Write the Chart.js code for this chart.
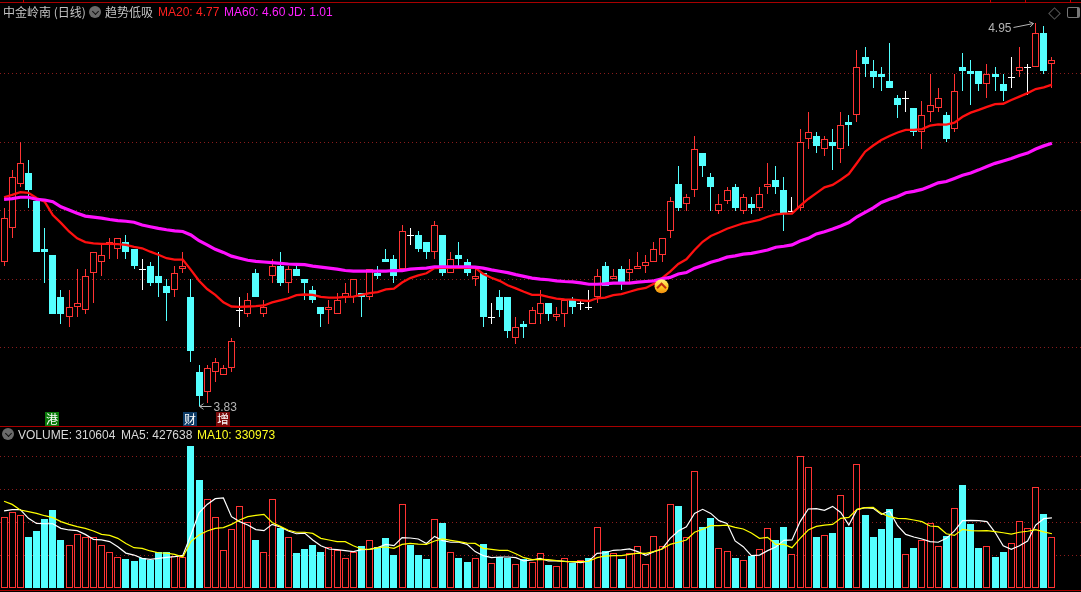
<!DOCTYPE html>
<html>
<head>
<meta charset="utf-8" />
<title>中金岭南 (日线)</title>
<script src="https://cdn.jsdelivr.net/npm/chart.js@4/dist/chart.umd.min.js"></script>
<style>
  html, body { margin: 0; padding: 0; background: #000; overflow: hidden; }
  .stage { position: relative; width: 1081px; height: 592px; background: #000; overflow: hidden; }
  canvas { position: absolute; left: 0; display: block; }
  .js-price-chart { top: 0; }
  .js-volume-chart { top: 427px; }
  .frame-line { position: absolute; left: 0; width: 1081px; height: 1px; background: #a80000; }
  .top-tick { position: absolute; top: 0; width: 1px; height: 3px; background: #c00000; }
  .head { position: absolute; white-space: nowrap; font: 12px "Liberation Sans", "Noto Sans CJK SC", sans-serif; line-height: 14px; }
  .cjk { font-family: "Noto Sans CJK SC", sans-serif; }
  .round-icon { position: absolute; width: 12px; height: 12px; border-radius: 50%; background: #6a6a6a; }
  .round-icon::after { content: ""; position: absolute; left: 3.5px; top: 2.5px; width: 4px; height: 4px; border-right: 1px solid #111; border-bottom: 1px solid #111; transform: rotate(45deg); }
  .tag { position: absolute; top: 412px; width: 14px; height: 14px; color: #fff; text-align: center; font: 12px/14px "Noto Sans CJK SC", sans-serif; }
  .diamond { position: absolute; left: 1050px; top: 9px; width: 7px; height: 7px; border: 1px solid #555; transform: rotate(45deg); }
  .toggle { position: absolute; left: 1067px; top: 7px; width: 9px; height: 9px; border: 1px solid #777; border-radius: 2px; border-right: 3px solid #777; }
</style>
</head>
<body>
<div class="stage">
  <canvas class="js-price-chart" width="1081" height="426"></canvas>
  <canvas class="js-volume-chart" width="1081" height="163"></canvas>

  <div class="frame-line" style="top: 2px"></div>
  <div class="frame-line" style="top: 426px"></div>
  <div class="frame-line" style="top: 590px"></div>
  <div class="top-tick" style="left: 23px"></div>
  <div class="top-tick" style="left: 990px"></div>
  <div class="top-tick" style="left: 1025px"></div>
  <div class="top-tick" style="left: 1070px"></div>

  <div class="head cjk" style="left: 3px; top: 5px; color: #c4c4c4">中金岭南 (日线)</div>
  <div class="round-icon" style="left: 89px; top: 6px"></div>
  <div class="head cjk" style="left: 105px; top: 5px; color: #c4c4c4">趋势低吸</div>
  <div class="head" style="left: 158px; top: 5px; color: #ff2020">MA20: 4.77</div>
  <div class="head" style="left: 224px; top: 5px; color: #ff20ff">MA60: 4.60</div>
  <div class="head" style="left: 288px; top: 5px; color: #ff20ff">JD: 1.01</div>
  <div class="diamond"></div>
  <div class="toggle"></div>

  <div class="tag" style="left: 45px; background: #0a7a0a">港</div>
  <div class="tag" style="left: 183px; background: #0c3a66">财</div>
  <div class="tag" style="left: 216px; background: #7a0a0a">增</div>

  <div class="round-icon" style="left: 2px; top: 428px"></div>
  <div class="head" style="left: 18px; top: 428px; color: #d8d8d8">VOLUME: 310604</div>
  <div class="head" style="left: 121px; top: 428px; color: #d8d8d8">MA5: 427638</div>
  <div class="head" style="left: 197px; top: 428px; color: #ffff20">MA10: 330973</div>
</div>

<script>
// prices, one entry per trading day
const opens = [
  4.25,4.35,4.48,4.51,4.43,4.29,4.27,4.15,4.09,4.12,
  4.11,4.22,4.25,4.30,4.29,4.31,4.29,4.23,4.24,4.21,
  4.18,4.17,4.23,4.15,3.93,3.87,3.93,3.92,3.94,4.11,
  4.10,4.22,4.10,4.21,4.24,4.19,4.23,4.20,4.17,4.12,
  4.11,4.10,4.15,4.15,4.16,4.15,4.22,4.26,4.26,4.23,
  4.33,4.33,4.31,4.28,4.33,4.22,4.27,4.25,4.20,4.22,
  4.09,4.15,4.15,4.03,4.07,4.07,4.10,4.13,4.09,4.10,
  4.14,4.13,4.12,4.15,4.24,4.20,4.23,4.22,4.23,4.24,
  4.25,4.27,4.34,4.48,4.42,4.46,4.57,4.50,4.40,4.43,
  4.47,4.40,4.42,4.41,4.47,4.49,4.46,4.40,4.41,4.61,
  4.62,4.58,4.60,4.58,4.66,4.68,4.85,4.81,4.80,4.78,
  4.73,4.73,4.70,4.63,4.69,4.70,4.68,4.64,4.82,4.81,
  4.81,4.77,4.80,4.77,4.79,4.81,4.82,4.82,4.92,4.83,
];
const closes = [
  4.38,4.50,4.54,4.46,4.28,4.28,4.10,4.10,4.12,4.13,
  4.21,4.28,4.27,4.31,4.32,4.28,4.24,4.23,4.19,4.19,
  4.16,4.22,4.24,3.99,3.86,3.94,3.96,3.94,4.02,4.11,
  4.14,4.15,4.12,4.24,4.19,4.23,4.21,4.19,4.14,4.10,
  4.12,4.14,4.16,4.20,4.15,4.23,4.21,4.25,4.21,4.34,
  4.33,4.29,4.28,4.36,4.22,4.26,4.26,4.22,4.21,4.09,
  4.09,4.11,4.05,4.06,4.06,4.11,4.13,4.10,4.10,4.14,
  4.12,4.13,4.12,4.21,4.18,4.21,4.19,4.23,4.24,4.25,
  4.29,4.32,4.43,4.41,4.44,4.58,4.53,4.47,4.42,4.46,
  4.41,4.44,4.41,4.45,4.48,4.47,4.39,4.40,4.60,4.63,
  4.59,4.61,4.59,4.65,4.65,4.82,4.83,4.79,4.79,4.76,
  4.71,4.73,4.63,4.68,4.71,4.73,4.61,4.75,4.81,4.80,
  4.77,4.80,4.79,4.75,4.79,4.82,4.82,4.92,4.81,4.84,
];
const highs = [
  4.41,4.52,4.60,4.55,4.43,4.35,4.27,4.17,4.17,4.23,
  4.23,4.28,4.30,4.32,4.32,4.33,4.29,4.26,4.25,4.28,
  4.20,4.24,4.28,4.20,3.95,3.95,3.97,3.95,4.03,4.15,
  4.16,4.23,4.14,4.26,4.28,4.24,4.24,4.20,4.18,4.12,
  4.14,4.16,4.19,4.20,4.16,4.23,4.24,4.29,4.27,4.36,
  4.35,4.34,4.31,4.37,4.33,4.28,4.31,4.26,4.23,4.22,
  4.13,4.17,4.15,4.09,4.08,4.12,4.17,4.13,4.12,4.14,
  4.15,4.14,4.17,4.23,4.25,4.23,4.24,4.26,4.28,4.27,
  4.31,4.32,4.44,4.53,4.45,4.62,4.57,4.51,4.45,4.47,
  4.48,4.45,4.44,4.47,4.54,4.53,4.50,4.44,4.64,4.69,
  4.63,4.62,4.64,4.69,4.68,4.87,4.88,4.84,4.82,4.89,
  4.74,4.75,4.70,4.72,4.80,4.76,4.69,4.80,4.86,4.84,
  4.81,4.83,4.82,4.80,4.85,4.88,4.83,4.95,4.94,4.85,
];
const lows = [
  4.24,4.32,4.47,4.41,4.28,4.19,4.10,4.07,4.06,4.09,
  4.10,4.13,4.21,4.26,4.26,4.26,4.23,4.17,4.18,4.15,
  4.08,4.15,4.22,3.96,3.83,3.84,3.90,3.92,3.93,4.06,
  4.09,4.15,4.09,4.19,4.18,4.16,4.21,4.14,4.13,4.06,
  4.07,4.10,4.13,4.13,4.09,4.14,4.20,4.25,4.19,4.23,
  4.30,4.28,4.26,4.26,4.21,4.22,4.24,4.21,4.18,4.06,
  4.07,4.09,4.03,4.01,4.03,4.07,4.07,4.08,4.08,4.06,
  4.10,4.11,4.11,4.13,4.18,4.20,4.17,4.19,4.23,4.22,
  4.25,4.25,4.32,4.40,4.40,4.44,4.50,4.40,4.39,4.42,
  4.40,4.39,4.39,4.40,4.45,4.45,4.34,4.40,4.40,4.58,
  4.57,4.56,4.52,4.54,4.59,4.66,4.79,4.76,4.75,4.76,
  4.67,4.69,4.62,4.58,4.66,4.69,4.60,4.63,4.75,4.71,
  4.75,4.73,4.75,4.72,4.76,4.79,4.74,4.82,4.80,4.76,
];
const ma20 = [
  4.440,4.447,4.455,4.453,4.438,4.427,4.388,4.365,4.340,4.320,
  4.309,4.305,4.304,4.304,4.303,4.301,4.295,4.291,4.281,4.272,
  4.262,4.258,4.258,4.228,4.196,4.172,4.155,4.133,4.121,4.120,
  4.121,4.122,4.124,4.133,4.139,4.145,4.154,4.156,4.155,4.149,
  4.147,4.147,4.149,4.150,4.155,4.160,4.163,4.171,4.173,4.191,
  4.204,4.212,4.218,4.233,4.234,4.234,4.234,4.234,4.234,4.216,
  4.205,4.196,4.183,4.174,4.164,4.155,4.155,4.149,4.144,4.142,
  4.141,4.139,4.137,4.145,4.147,4.154,4.157,4.164,4.171,4.175,
  4.187,4.204,4.223,4.245,4.259,4.286,4.310,4.327,4.337,4.348,
  4.356,4.364,4.369,4.374,4.383,4.390,4.392,4.392,4.415,4.435,
  4.452,4.469,4.476,4.491,4.508,4.540,4.573,4.591,4.607,4.619,
  4.629,4.637,4.637,4.639,4.649,4.653,4.652,4.658,4.675,4.687,
  4.695,4.704,4.712,4.713,4.724,4.734,4.744,4.756,4.761,4.769,
];
const ma60 = [
  4.434,4.436,4.440,4.440,4.434,4.432,4.427,4.412,4.403,4.393,
  4.385,4.382,4.379,4.375,4.372,4.370,4.367,4.359,4.354,4.349,
  4.345,4.342,4.340,4.330,4.313,4.301,4.288,4.279,4.268,4.262,
  4.256,4.253,4.251,4.249,4.247,4.245,4.244,4.243,4.239,4.236,
  4.233,4.230,4.226,4.224,4.224,4.224,4.224,4.224,4.226,4.226,
  4.230,4.232,4.233,4.237,4.237,4.237,4.237,4.237,4.236,4.233,
  4.228,4.224,4.220,4.214,4.209,4.204,4.201,4.199,4.196,4.194,
  4.193,4.190,4.186,4.186,4.187,4.189,4.189,4.189,4.192,4.194,
  4.196,4.202,4.206,4.216,4.220,4.233,4.241,4.250,4.257,4.265,
  4.269,4.274,4.276,4.281,4.286,4.294,4.297,4.301,4.312,4.320,
  4.333,4.339,4.347,4.356,4.366,4.383,4.396,4.409,4.425,4.434,
  4.442,4.453,4.457,4.463,4.472,4.482,4.486,4.495,4.504,4.511,
  4.520,4.530,4.539,4.546,4.553,4.562,4.569,4.581,4.590,4.598,
];

// volume in thousands of lots
const volumes = [
  431,461,443,311,348,421,476,293,260,327,
  309,309,260,218,187,177,165,183,171,218,
  218,195,187,866,659,541,431,230,358,498,
  401,293,218,541,366,309,213,238,262,220,
  248,230,181,220,256,291,248,305,201,510,
  262,201,177,419,396,218,183,159,181,268,
  150,187,183,144,177,157,211,140,132,181,
  152,169,181,370,224,211,177,211,254,144,
  315,254,510,500,309,712,372,427,242,224,
  183,169,197,236,364,293,372,205,803,736,
  311,321,335,565,372,754,445,311,360,482,
  305,205,244,291,394,254,317,486,628,390,
  244,254,189,220,272,407,364,614,451,310.604,
];
const volumeMa5 = [
  470,478,478,425,394,392,392,364,354,350,
  327,297,293,283,252,213,201,181,175,181,
  187,191,199,323,459,510,545,549,435,405,
  384,356,350,388,372,348,331,335,293,258,
  238,234,228,222,234,236,246,266,258,307,
  305,299,272,315,289,279,279,266,222,197,
  185,189,189,185,165,171,181,165,165,163,
  159,155,165,211,215,230,232,238,222,199,
  222,238,303,348,374,455,480,455,411,394,
  287,252,197,201,228,250,291,293,405,482,
  484,474,498,461,384,478,490,486,449,470,
  380,327,311,299,283,279,303,348,411,413,
  411,405,340,258,236,258,287,384,423,427.638,
];
const volumeMa10 = [
  529,510,476,466,455,441,429,405,388,374,
  364,348,327,321,303,272,246,242,226,215,
  213,205,189,283,323,348,364,368,388,415,
  435,443,449,400,376,352,340,340,333,303,
  293,283,283,258,238,236,246,250,242,266,
  272,268,266,287,299,291,283,274,272,242,
  236,230,230,209,185,173,175,173,167,163,
  161,161,163,185,195,197,197,205,213,211,
  222,238,266,279,293,340,358,380,380,384,
  370,360,335,303,309,266,266,246,303,354,
  376,384,388,425,431,480,490,492,455,435,
  425,423,415,405,378,374,331,321,358,350,
  348,350,344,337,329,340,346,356,342,330.973,
];

const priceTicks = [4.0, 4.2, 4.4, 4.6, 4.8];
const volumeTicks = [200, 400, 600, 800];

const lowMark = { index: 24, price: 3.83, label: "3.83" };
const highMark = { index: 127, price: 4.95, label: "4.95" };
const signalMark = { index: 81, price: 4.18 };

const RED = "#ff3333";
const CYAN = "#54ffff";
const WHITE = "#ffffff";
const DAY_WIDTH = 8.123;

const days = opens.map((val, i) => i);
const lastDay = 1081 / DAY_WIDTH - 0.5;

function candleColor(i) {
  if (closes[i] > opens[i]) return RED;
  if (closes[i] < opens[i]) return CYAN;
  return WHITE;
}

function volumeColor(i) {
  if (closes[i] > opens[i]) return RED;
  if (closes[i] < opens[i]) return CYAN;
  return i === 0 || closes[i] >= closes[i - 1] ? RED : CYAN;
}

function points(array) {
  return days.map((day) => ({ x: day, y: array[day] }));
}

function lineSet(array, color, width, order) {
  return {
    type: "line",
    data: points(array),
    borderColor: color,
    borderWidth: width,
    pointRadius: 0,
    tension: 0,
    fill: false,
    order: order,
  };
}

// keeps the bars on whole pixels, the reference has no soft edges
const snapBars = {
  id: "snapBars",
  afterDatasetsUpdate(chart) {
    chart.data.datasets.forEach((set, index) => {
      if (set.type !== "bar") return;
      chart.getDatasetMeta(index).data.forEach((bar) => {
        bar.x = Math.floor(bar.x) + 0.5;
        bar.y = Math.round(bar.y);
        bar.base = Math.round(bar.base);
        if (bar.y === bar.base) bar.base = bar.y + 1;
      });
    });
  },
};

function drawArrowHead(ctx, x, y, dirX, dirY) {
  const size = 4;
  const nx = -dirY;
  const ny = dirX;
  ctx.beginPath();
  ctx.moveTo(x - dirX * size + nx * size * 0.7, y - dirY * size + ny * size * 0.7);
  ctx.lineTo(x, y);
  ctx.lineTo(x - dirX * size - nx * size * 0.7, y - dirY * size - ny * size * 0.7);
  ctx.stroke();
}

const priceMarks = {
  id: "priceMarks",
  afterDatasetsDraw(chart) {
    const ctx = chart.ctx;
    const x = chart.scales.x;
    const y = chart.scales.y;

    ctx.save();
    ctx.strokeStyle = "#b4b4b4";
    ctx.fillStyle = "#b4b4b4";
    ctx.lineWidth = 1;
    ctx.font = '12px "Liberation Sans", sans-serif';
    ctx.textBaseline = "middle";

    // lowest price, arrow pointing back at the wick
    const lowX = Math.floor(x.getPixelForValue(lowMark.index)) + 0.5;
    const lowY = Math.round(y.getPixelForValue(lowMark.price)) + 0.5;
    ctx.beginPath();
    ctx.moveTo(lowX + 12, lowY);
    ctx.lineTo(lowX, lowY);
    ctx.stroke();
    drawArrowHead(ctx, lowX, lowY, -1, 0);
    ctx.textAlign = "left";
    ctx.fillText(lowMark.label, lowX + 14, lowY + 1);

    // highest price, arrow rising to the wick
    const highX = Math.floor(x.getPixelForValue(highMark.index)) - 1.5;
    const highY = Math.round(y.getPixelForValue(highMark.price)) + 0.5;
    ctx.beginPath();
    ctx.moveTo(highX - 20, highY + 4);
    ctx.lineTo(highX, highY);
    ctx.stroke();
    drawArrowHead(ctx, highX, highY, 0.98, -0.2);
    ctx.textAlign = "right";
    ctx.fillText(highMark.label, highX - 22, highY + 5);

    // signal badge on the lines
    const badgeX = x.getPixelForValue(signalMark.index) - 0.5;
    const badgeY = y.getPixelForValue(signalMark.price);
    const fill = ctx.createLinearGradient(0, badgeY - 7, 0, badgeY + 7);
    fill.addColorStop(0, "#fff27a");
    fill.addColorStop(0.6, "#ffc21a");
    fill.addColorStop(1, "#f08a10");
    ctx.fillStyle = fill;
    ctx.beginPath();
    ctx.arc(badgeX, badgeY, 7, 0, Math.PI * 2);
    ctx.fill();
    ctx.strokeStyle = "#c02a10";
    ctx.lineWidth = 2;
    ctx.beginPath();
    ctx.moveTo(badgeX - 4.5, badgeY + 2);
    ctx.lineTo(badgeX, badgeY - 2.5);
    ctx.lineTo(badgeX + 4.5, badgeY + 2);
    ctx.stroke();
    ctx.restore();
  },
};

function baseOptions(yMin, yMax, ticks) {
  return {
    responsive: false,
    animation: false,
    devicePixelRatio: 1,
    events: [],
    layout: { padding: 0 },
    plugins: { legend: { display: false }, tooltip: { enabled: false } },
    scales: {
      x: { type: "linear", display: false, offset: false, min: -0.5, max: lastDay },
      y: {
        min: yMin,
        max: yMax,
        afterBuildTicks(scale) {
          scale.ticks = ticks.map((val) => ({ value: val }));
        },
        ticks: { display: false, autoSkip: false },
        grid: { color: "#8a1c1c", lineWidth: 1, drawTicks: false },
        border: { display: false, dash: [1, 3] },
      },
    },
  };
}

new Chart(document.querySelector(".js-price-chart"), {
  type: "bar",
  data: {
    datasets: [
      lineSet(ma60, "#ff10ff", 3.2, 0),
      lineSet(ma20, "#ff1010", 2.3, 1),
      {
        type: "bar",
        data: days.map((day) => ({ x: day, y: [opens[day], closes[day]] })),
        barThickness: 7,
        grouped: false,
        inflateAmount: 0,
        backgroundColor: days.map((day) => (candleColor(day) === RED ? "#000000" : candleColor(day))),
        borderColor: days.map(candleColor),
        borderWidth: 1,
        borderSkipped: false,
        order: 2,
      },
      {
        type: "bar",
        data: days.map((day) => ({ x: day, y: [lows[day], highs[day]] })),
        barThickness: 1,
        grouped: false,
        inflateAmount: 0,
        backgroundColor: days.map(candleColor),
        borderWidth: 0,
        order: 3,
      },
    ],
  },
  options: baseOptions(3.772, 5.016, priceTicks),
  plugins: [snapBars, priceMarks],
});

new Chart(document.querySelector(".js-volume-chart"), {
  type: "bar",
  data: {
    datasets: [
      lineSet(volumeMa10, "#ffff00", 1.2, 0),
      lineSet(volumeMa5, "#ffffff", 1.2, 1),
      {
        type: "bar",
        data: points(volumes),
        barThickness: 7,
        grouped: false,
        inflateAmount: 0,
        backgroundColor: days.map((day) => (volumeColor(day) === RED ? "#000000" : volumeColor(day))),
        borderColor: days.map(volumeColor),
        borderWidth: 1,
        borderSkipped: false,
        order: 2,
      },
    ],
  },
  options: baseOptions(-12.2, 982.1, volumeTicks),
  plugins: [snapBars],
});
</script>
</body>
</html>
